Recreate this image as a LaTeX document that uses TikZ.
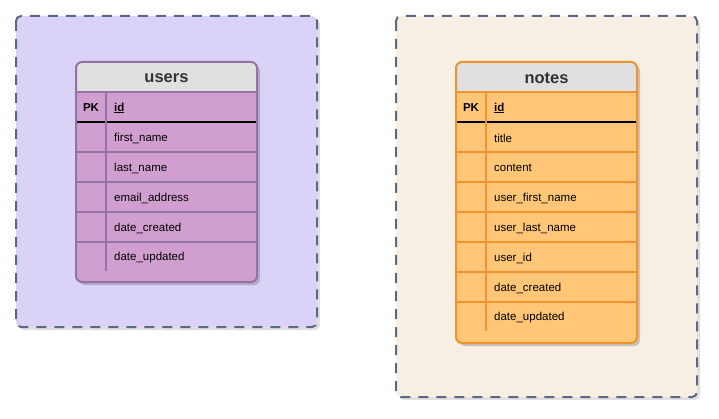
\documentclass[tikz,border=0pt]{standalone}
\usepackage{fontspec}
\setmainfont{Liberation Sans}
\definecolor{cstroke}{HTML}{5A6A84}
\definecolor{ufill}{HTML}{DAD3F7}
\definecolor{nfill}{HTML}{F7EFE4}
\definecolor{hfill}{HTML}{E0E0E0}
\definecolor{ubody}{HTML}{D09FCF}
\definecolor{ustroke}{HTML}{9673A6}
\definecolor{nbody}{HTML}{FFC678}
\definecolor{nstroke}{HTML}{F0922E}
\definecolor{ttext}{HTML}{333333}
\tikzset{
  container/.style={draw=cstroke, line width=2pt, dash pattern=on 10pt off 8pt, rounded corners=5pt},
  shadowbox/.style={fill=black, opacity=0.18, rounded corners=6pt},
  title/.style={font=\bfseries\fontsize{16.5}{18}\selectfont, text=ttext, inner sep=0pt},
  fieldtxt/.style={font=\fontsize{11.5}{13}\selectfont, text=black, anchor=west, inner sep=0pt},
  pktxt/.style={font=\bfseries\fontsize{11.5}{13}\selectfont, text=black, inner sep=0pt},
}
% \erdtable{prefix}{x0}{y0}{x1}{y1}{title}{fields}{body}{stroke}
\newcommand{\erdtable}[9]{%
  \fill[shadowbox] (#2+3,#3+3) rectangle (#4+3,#5+3);
  \begin{scope}
    \clip[rounded corners=6pt] (#2,#3) rectangle (#4,#5);
    \fill[#8] (#2,#3) rectangle (#4,#5);
    \fill[hfill] (#2,#3) rectangle (#4,#3+30);
  \end{scope}
  \node[title] (#1title) at ({(#2+#4)/2},#3+16) {#6};
  \draw[#9, line width=1.5pt] (#2,#3+30) -- (#4,#3+30);
  \node[pktxt] (#1pk) at (#2+15,#3+46) {PK};
  \node[fieldtxt] (#1id) at (#2+38,#3+46) {\bfseries\underline{id}};
  \draw[black, line width=1.3pt] (#2,#3+60) -- (#4,#3+60);
  \foreach \f [count=\i] in {#7} {
    \node[fieldtxt] (#1f\i) at (#2+38,#3+46+30*\i) {\f};
  }
  \draw[#9, line width=2pt, rounded corners=6pt] (#2,#3) rectangle (#4,#5);
}
\newcommand{\rowline}[4]{% x0 x1 y stroke
  \draw[#4, line width=1.5pt] (#1,#3) -- (#2,#3);
  \draw[#4, line width=2.5pt] (#1,#3) -- (#1+12,#3);
  \draw[#4, line width=2.5pt] (#2-10,#3) -- (#2,#3);
}
\begin{document}
\begin{tikzpicture}[x=1pt,y=-1pt]
\useasboundingbox (0,0) rectangle (719,419);
% containers
\fill[black, opacity=0.12, rounded corners=5pt] (19,19) rectangle (320,330);
\fill[ufill, rounded corners=5pt] (16,16) rectangle (317,327);
\draw[container] (16,16) rectangle (317,327);
\fill[black, opacity=0.12, rounded corners=5pt] (399,19) rectangle (700,400);
\fill[nfill, rounded corners=5pt] (396,16) rectangle (697,397);
\draw[container] (396,16) rectangle (697,397);
% users table
\erdtable{u}{76}{62}{257}{282}{users}{first\_name,last\_name,email\_address,date\_created,date\_updated}{ubody}{ustroke}
\foreach \y in {152,182,212,242} {\rowline{76}{257}{\y}{ustroke}}
\draw[ustroke, line width=1.6pt] (106,92) -- (106,271);
% notes table
\erdtable{n}{456}{62}{637}{343}{notes}{title,content,user\_first\_name,user\_last\_name,user\_id,date\_created,date\_updated}{nbody}{nstroke}
\foreach \y in {152,182,212,242,272,302} {\rowline{456}{637}{\y}{nstroke}}
\draw[nstroke, line width=1.6pt] (486,92) -- (486,331);
\end{tikzpicture}
\end{document}
